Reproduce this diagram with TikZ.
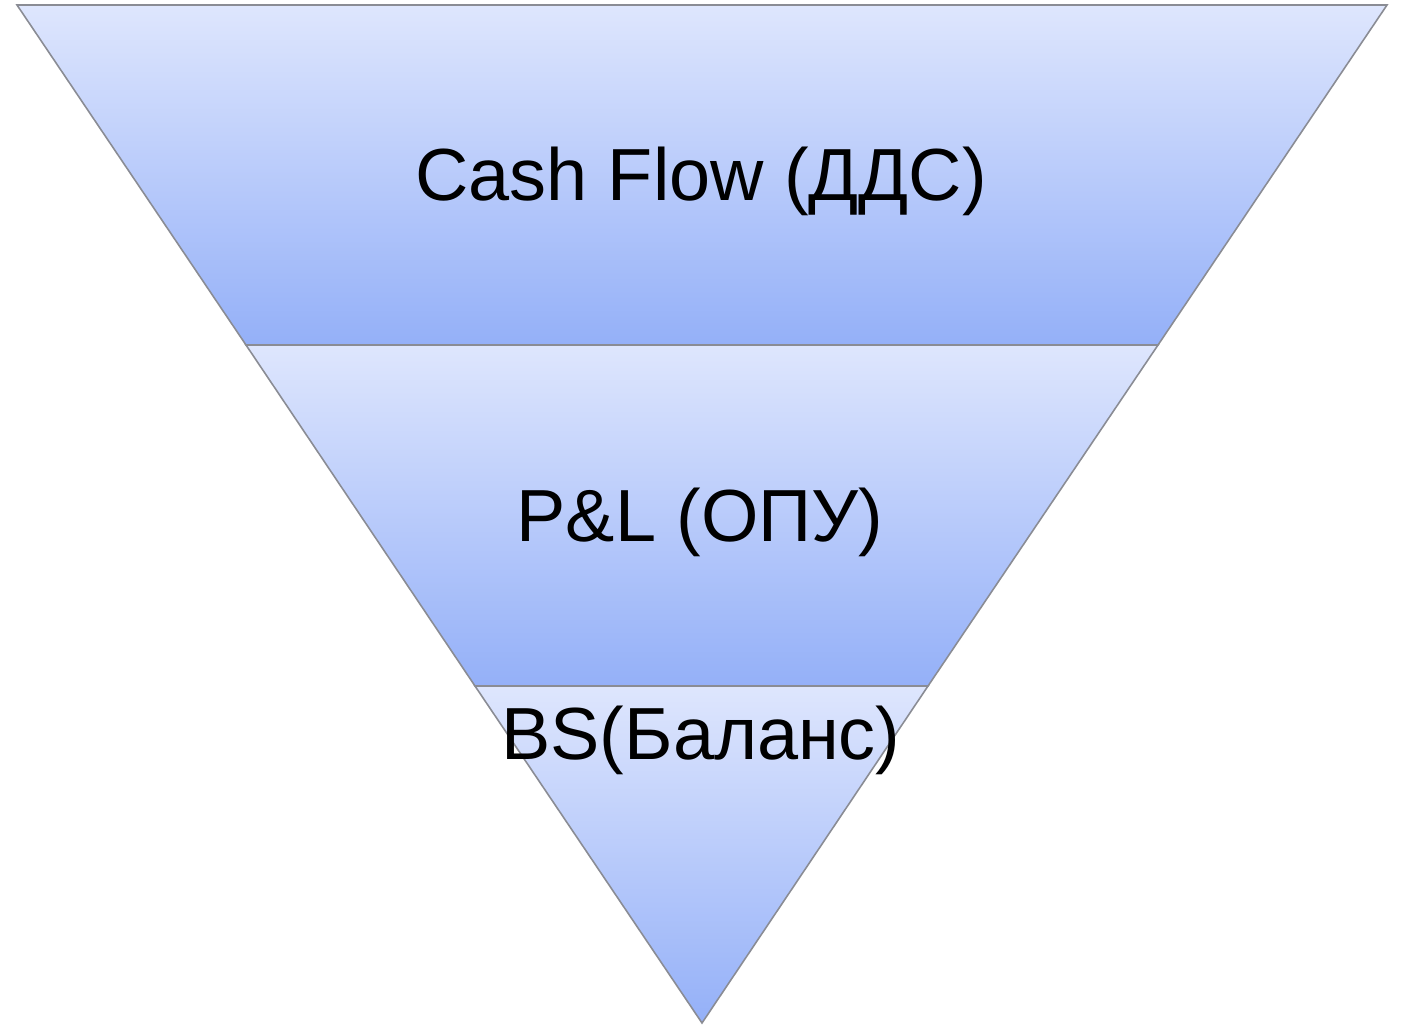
\documentclass[tikz,border=0pt]{standalone}
\usepackage{fontspec}
\setmainfont{Liberation Sans}
\usetikzlibrary{positioning}

\definecolor{bandtop}{HTML}{DEE6FD}
\definecolor{bandbot}{HTML}{94B0F8}
\definecolor{bandline}{HTML}{8A8C94}

\begin{document}
\begin{tikzpicture}[
  x=0.01cm, y=-0.01cm,
  band/.style={draw=bandline, line width=0.45pt, line join=miter,
    top color=bandtop, bottom color=bandbot},
  lbl/.style={font=\fontsize{21}{24}\selectfont, text=black, inner sep=0pt}
]
\useasboundingbox (0,0) rectangle (1401,1025);

\coordinate (tl) at (17,5);
\coordinate (tr) at (1387,5);
\coordinate (ml) at (246,345);
\coordinate (mr) at (1158,345);
\coordinate (bl) at (475,686);
\coordinate (br) at (928,686);
\coordinate (apex) at (702,1023);

\path[band] (tl) -- (tr) -- (mr) -- (ml) -- cycle;
\path[band] (ml) -- (mr) -- (br) -- (bl) -- cycle;
\path[band] (bl) -- (br) -- (apex) -- cycle;

\node[lbl] (cashflow) at (701,181) {Cash Flow (ДДС)};
\node[lbl] (pnl) at (700,522) {P\&L (ОПУ)};
\node[lbl] (balance) at (701,740) {BS(Баланс)};
\end{tikzpicture}
\end{document}
